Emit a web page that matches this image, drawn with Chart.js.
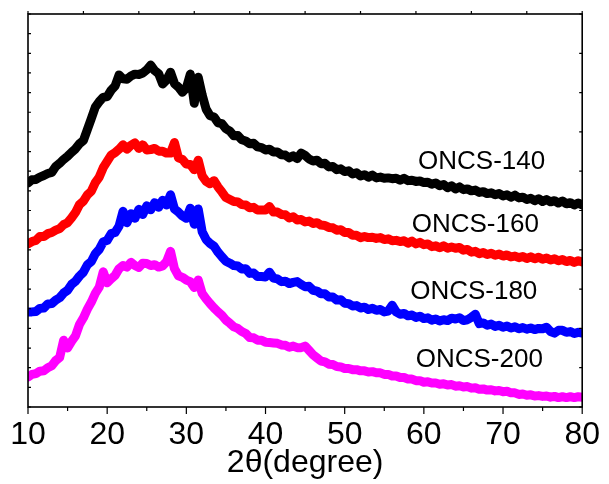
<!DOCTYPE html>
<html>
<head>
<meta charset="utf-8">
<script src="https://cdn.jsdelivr.net/npm/chart.js@4/dist/chart.umd.min.js"></script>
<style>
  html, body { margin: 0; padding: 0; background: #fff; }
  #wrap { width: 609px; height: 484px; }
</style>
</head>
<body>
<div id="wrap"><canvas id="xrd" width="609" height="484"></canvas></div>
<script>
// Diffraction angle 2θ (degree), 0.5° steps
const theta = [
  10, 10.5, 11, 11.5, 12, 12.5, 13, 13.5, 14, 14.5,
  15, 15.5, 16, 16.5, 17, 17.5, 18, 18.5, 19, 19.5,
  20, 20.5, 21, 21.5, 22, 22.5, 23, 23.5, 24, 24.5,
  25, 25.5, 26, 26.5, 27, 27.5, 28, 28.5, 29, 29.5,
  30, 30.5, 31, 31.5, 32, 32.5, 33, 33.5, 34, 34.5,
  35, 35.5, 36, 36.5, 37, 37.5, 38, 38.5, 39, 39.5,
  40, 40.5, 41, 41.5, 42, 42.5, 43, 43.5, 44, 44.5,
  45, 45.5, 46, 46.5, 47, 47.5, 48, 48.5, 49, 49.5,
  50, 50.5, 51, 51.5, 52, 52.5, 53, 53.5, 54, 54.5,
  55, 55.5, 56, 56.5, 57, 57.5, 58, 58.5, 59, 59.5,
  60, 60.5, 61, 61.5, 62, 62.5, 63, 63.5, 64, 64.5,
  65, 65.5, 66, 66.5, 67, 67.5, 68, 68.5, 69, 69.5,
  70, 70.5, 71, 71.5, 72, 72.5, 73, 73.5, 74, 74.5,
  75, 75.5, 76, 76.5, 77, 77.5, 78, 78.5, 79, 79.5,
  80
];

// Intensity (a.u., stacked with offsets)
const oncs140 = [
  57.0, 57.8, 57.9, 58.5, 58.9, 59.4, 59.7, 61.2, 62.0, 63.0,
  63.8, 64.8, 65.7, 67.0, 67.8, 70.6, 73.4, 76.3, 77.7, 78.8,
  79.0, 80.6, 81.7, 84.5, 83.5, 83.4, 84.2, 84.7, 84.6, 85.0,
  85.8, 87.0, 85.6, 84.8, 82.2, 83.2, 85.2, 82.3, 81.4, 80.1,
  81.2, 84.7, 77.3, 83.9, 79.4, 75.8, 74.1, 73.8, 72.3, 72.1,
  70.8, 70.2, 69.0, 69.1, 68.0, 67.7, 67.0, 67.1, 66.2, 66.0,
  65.4, 65.6, 64.9, 64.9, 64.2, 64.1, 63.4, 63.9, 63.2, 64.6,
  64.0, 63.1, 62.6, 62.8, 61.9, 62.0, 61.1, 61.2, 60.4, 60.6,
  59.9, 60.1, 59.3, 59.6, 58.8, 59.1, 58.5, 59.0, 58.3, 58.5,
  58.2, 58.3, 58.1, 58.2, 57.7, 58.2, 57.6, 57.7, 57.4, 57.5,
  57.1, 57.2, 56.7, 57.0, 56.3, 56.6, 55.8, 56.3, 55.5, 56.0,
  55.3, 55.5, 55.0, 55.2, 54.6, 54.8, 54.3, 54.5, 54.0, 54.3,
  53.7, 54.0, 53.4, 53.9, 53.2, 53.4, 52.8, 53.1, 52.5, 53.0,
  52.3, 52.8, 52.2, 52.5, 51.9, 52.4, 51.7, 52.0, 51.4, 51.9,
  51.4
];
const oncs160 = [
  41.5, 42.1, 42.4, 43.4, 43.4, 44.1, 44.4, 45.0, 45.4, 46.4,
  46.9, 48.1, 49.5, 51.5, 52.4, 54.0, 54.9, 57.1, 58.5, 60.9,
  62.5, 64.1, 64.7, 65.6, 66.7, 65.6, 66.6, 67.2, 65.8, 66.7,
  65.4, 65.5, 65.8, 65.1, 65.1, 64.6, 64.6, 67.3, 63.4, 63.0,
  61.8, 61.7, 60.4, 62.8, 58.8, 57.4, 56.8, 57.6, 56.0, 54.7,
  53.3, 52.8, 52.3, 52.2, 51.5, 51.4, 50.7, 50.8, 50.1, 50.1,
  50.1, 51.0, 49.6, 49.6, 49.0, 48.9, 48.1, 48.4, 47.6, 47.7,
  47.1, 47.3, 46.7, 46.9, 46.3, 46.2, 45.7, 45.6, 45.0, 45.1,
  44.4, 44.4, 43.7, 43.7, 43.1, 43.4, 43.1, 43.2, 42.9, 43.1,
  42.6, 42.8, 42.3, 42.4, 42.1, 42.3, 41.7, 42.2, 41.5, 41.9,
  41.3, 41.5, 40.8, 41.0, 40.5, 41.0, 40.4, 40.7, 40.4, 40.6,
  39.9, 40.1, 39.4, 39.6, 39.0, 39.3, 38.8, 39.1, 38.6, 38.9,
  38.4, 38.7, 38.2, 38.4, 38.0, 38.3, 37.8, 38.2, 37.7, 38.1,
  37.6, 37.9, 37.4, 37.7, 37.2, 37.5, 37.0, 37.3, 36.8, 37.2,
  36.9
];
const oncs180 = [
  24.2, 24.2, 24.3, 25.1, 25.2, 26.2, 26.3, 27.2, 27.8, 29.0,
  29.7, 31.2, 32.0, 33.3, 34.3, 36.2, 37.0, 39.0, 40.1, 42.0,
  42.4, 44.1, 44.4, 46.0, 49.8, 46.9, 49.2, 48.0, 50.3, 49.0,
  51.2, 50.2, 52.0, 50.8, 52.6, 51.4, 54.0, 50.4, 49.6, 48.6,
  48.0, 50.6, 46.5, 50.4, 44.6, 42.6, 41.6, 40.9, 39.4, 38.2,
  37.1, 36.6, 36.0, 35.9, 35.1, 35.2, 34.0, 34.1, 33.2, 33.2,
  33.1, 34.3, 32.8, 32.6, 31.9, 32.0, 31.4, 31.7, 31.9, 31.2,
  30.6, 30.7, 29.7, 29.5, 28.8, 28.8, 28.0, 28.0, 27.2, 27.3,
  26.4, 26.3, 25.7, 25.8, 25.2, 25.4, 24.8, 25.1, 24.6, 24.8,
  24.2, 24.4, 25.9, 24.2, 23.6, 23.8, 23.2, 23.4, 22.8, 23.1,
  22.5, 22.7, 22.1, 22.4, 21.9, 22.2, 22.0, 22.6, 22.4, 22.7,
  22.0, 22.2, 22.8, 23.6, 21.2, 21.4, 20.8, 21.1, 20.5, 20.8,
  20.3, 20.6, 20.1, 20.4, 19.9, 20.2, 19.8, 20.1, 19.7, 20.0,
  19.9, 20.3, 19.2, 18.8, 19.5, 19.5, 19.0, 19.2, 18.7, 19.0,
  18.8
];
const oncs200 = [
  7.6, 8.3, 8.5, 9.1, 9.2, 10.0, 10.5, 11.8, 12.6, 17.0,
  15.0, 16.7, 18.1, 21.0, 22.7, 24.9, 26.7, 28.9, 30.5, 34.4,
  31.6, 32.6, 33.5, 35.2, 36.0, 35.6, 36.8, 36.0, 35.5, 36.6,
  36.5, 36.0, 36.2, 35.6, 35.9, 37.0, 39.6, 35.2, 33.4, 33.0,
  32.3, 31.9, 30.4, 32.3, 28.9, 27.5, 26.3, 25.2, 24.2, 23.3,
  22.1, 21.3, 20.4, 20.0, 19.2, 18.7, 17.7, 17.6, 17.0, 17.0,
  16.5, 16.4, 16.3, 16.2, 15.8, 15.7, 15.2, 15.5, 15.1, 15.1,
  15.5, 14.4, 13.3, 12.5, 11.7, 11.5, 10.9, 10.8, 10.3, 10.2,
  9.8, 9.8, 9.5, 9.5, 9.2, 9.2, 8.9, 9.0, 8.7, 8.7,
  8.3, 8.3, 7.9, 7.9, 7.5, 7.5, 7.1, 7.1, 6.7, 6.7,
  6.3, 6.4, 6.1, 6.1, 5.8, 5.9, 5.6, 5.7, 5.3, 5.4,
  5.1, 5.2, 4.8, 4.9, 4.5, 4.6, 4.3, 4.4, 4.1, 4.2,
  3.9, 4.0, 3.6, 3.6, 3.2, 3.3, 3.0, 3.1, 2.8, 2.9,
  2.7, 2.8, 2.5, 2.7, 2.4, 2.6, 2.4, 2.6, 2.4, 2.6,
  2.5
];

// Sample names and where their labels sit (2θ, intensity)
const sampleNames = ['ONCS-140', 'ONCS-160', 'ONCS-180', 'ONCS-200'];
const labelTheta = [67.3, 66.5, 66.3, 67.0];
const labelLevel = [62.3, 46.3, 29.3, 12.0];

// Axis tick values
const xTickLabels = [10, 20, 30, 40, 50, 60, 70, 80];
const xMinorTicks = [15, 25, 35, 45, 55, 65, 75];
const topTicks = [10, 17, 24, 31, 38, 45, 52, 59, 66, 73, 80];
const leftTicks = [0, 5, 10, 15, 20, 25, 30, 35, 40, 45, 50, 55, 60, 65, 70, 75, 80, 85, 90, 95, 100];
const rightTicks = [0, 10, 20, 30, 40, 50, 60, 70, 80, 90, 100];

const seriesColors = ['#000000', '#ff0000', '#0000ff', '#ff00ff'];
const seriesValues = [oncs140, oncs160, oncs180, oncs200];

const FONT = "'Liberation Sans', Arial, Helvetica, sans-serif";

// Frame, tick marks and the sample-name labels
const framePlugin = {
  id: 'frame',
  afterDatasetsDraw(chart) {
    const { ctx, chartArea: a, scales: { x, y } } = chart;
    ctx.save();
    ctx.strokeStyle = '#000';
    ctx.lineWidth = 1.2;
    ctx.beginPath();
    xTickLabels.forEach(v => {
      const px = x.getPixelForValue(v);
      ctx.moveTo(px, a.bottom); ctx.lineTo(px, a.bottom + 7);
    });
    xMinorTicks.forEach(v => {
      const px = x.getPixelForValue(v);
      ctx.moveTo(px, a.bottom); ctx.lineTo(px, a.bottom + 4);
    });
    topTicks.forEach(v => {
      const px = x.getPixelForValue(v);
      ctx.moveTo(px, a.top); ctx.lineTo(px, a.top - 3);
    });
    leftTicks.forEach(v => {
      const py = y.getPixelForValue(v);
      ctx.moveTo(a.left, py); ctx.lineTo(a.left + 3, py);
    });
    rightTicks.forEach(v => {
      const py = y.getPixelForValue(v);
      ctx.moveTo(a.right, py); ctx.lineTo(a.right - 3, py);
    });
    ctx.stroke();

    ctx.lineWidth = 1.6;
    ctx.strokeRect(a.left, a.top, a.right - a.left, a.bottom - a.top);

    ctx.fillStyle = '#000';
    ctx.font = '26px ' + FONT;
    ctx.textAlign = 'center';
    ctx.textBaseline = 'middle';
    sampleNames.forEach((name, i) => {
      ctx.fillText(name, x.getPixelForValue(labelTheta[i]), y.getPixelForValue(labelLevel[i]));
    });
    ctx.restore();
  }
};

new Chart(document.getElementById('xrd'), {
  type: 'line',
  data: {
    datasets: sampleNames.map((name, i) => ({
      label: name,
      data: theta.map((t, k) => ({ x: t, y: seriesValues[i][k] })),
      borderColor: seriesColors[i],
      backgroundColor: seriesColors[i],
      borderWidth: 9,
      borderJoinStyle: 'round',
      borderCapStyle: 'round',
      pointRadius: 0,
      tension: 0,
      fill: false,
      clip: 0
    }))
  },
  options: {
    responsive: false,
    animation: false,
    devicePixelRatio: 1,
    layout: { padding: { left: 28, right: 25, top: 14, bottom: 0 } },
    plugins: { legend: { display: false }, tooltip: { enabled: false } },
    scales: {
      x: {
        type: 'linear',
        min: 10,
        max: 80,
        border: { display: false },
        grid: { display: false, drawTicks: false },
        afterBuildTicks(scale) {
          scale.ticks = xTickLabels.map(v => ({ value: v }));
        },
        afterFit(scale) { scale.height = 77; },
        ticks: {
          padding: 9,
          maxRotation: 0,
          autoSkip: false,
          color: '#000',
          font: { family: FONT, size: 32 }
        },
        title: {
          display: true,
          text: '2θ(degree)',
          color: '#000',
          font: { family: FONT, size: 32 },
          padding: { top: 0, bottom: 2 }
        }
      },
      y: {
        type: 'linear',
        min: 0,
        max: 100,
        display: false
      }
    }
  },
  plugins: [framePlugin]
});
</script>
</body>
</html>
